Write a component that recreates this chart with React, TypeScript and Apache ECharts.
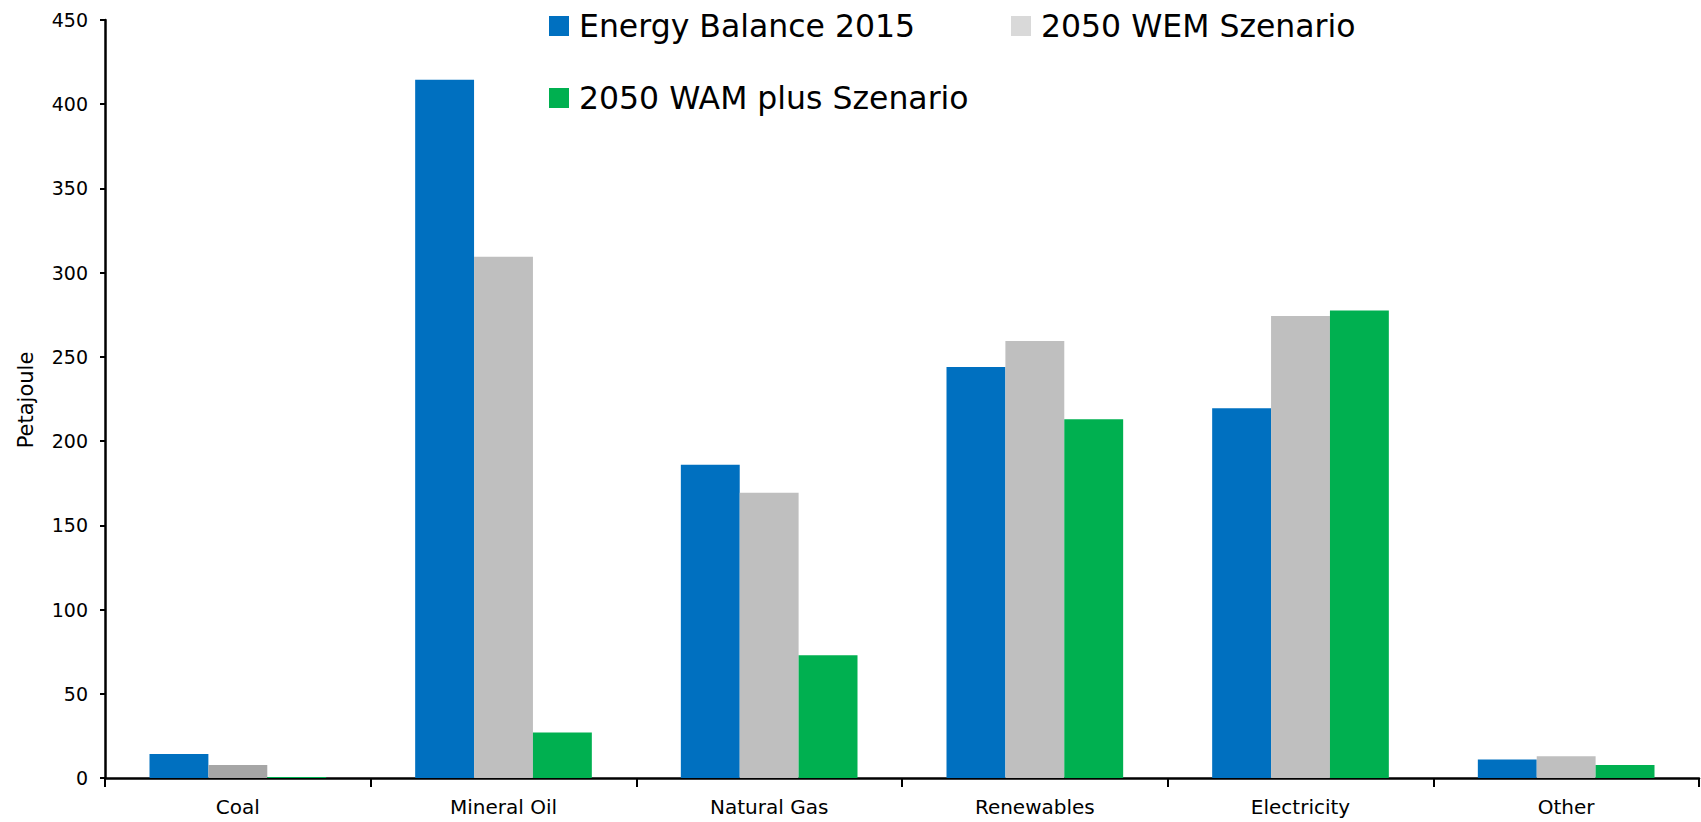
import React, { useEffect, useRef } from "react";
import * as echarts from "echarts";

const categories = ["Coal", "Mineral Oil", "Natural Gas", "Renewables", "Electricity", "Other"];
const seriesNames = ["Energy Balance 2015", "2050 WEM Szenario", "2050 WAM plus Szenario"];
const balance2015 = [14.2, 414.5, 186, 244, 219.5, 11];
const wem2050 = [7.7, 309.5, 169.3, 259.5, 274.3, 12.9];
const wamPlus2050 = [0.6, 27, 72.8, 213, 277.5, 7.7];
const yTicks = { min: 0, max: 450, interval: 50 };

const FONT = "DejaVu Sans";

export default function App() {
  const ref = useRef<HTMLDivElement>(null);
  useEffect(() => {
    if (!ref.current) return;
    const chart = echarts.init(ref.current, undefined, { renderer: "svg" });
    const legendBase = {
      orient: "horizontal",
      itemWidth: 20,
      itemHeight: 20,
      itemGap: 10,
      padding: 0,
      icon: "rect",
      textStyle: { fontFamily: FONT, fontSize: 31.5, color: "#000", padding: [0, 0, 0, 5] },
      selectedMode: false,
    };
    chart.setOption({
      animation: false,
      backgroundColor: "#fff",
      grid: { left: 105, right: 2, top: 20, bottom: 44, containLabel: false },
      legend: [
        { ...legendBase, left: 549, top: 10, data: [seriesNames[0]] },
        { ...legendBase, left: 1011, top: 10, data: [{ name: seriesNames[1], itemStyle: { color: "#d9d9d9" } }] },
        { ...legendBase, left: 549, top: 82, data: [seriesNames[2]] },
      ],
      graphic: [
        {
          type: "text",
          x: 26,
          y: 400,
          rotation: Math.PI / 2,
          style: {
            text: "Petajoule",
            fontFamily: FONT,
            fontSize: 21,
            fill: "#000",
            align: "center",
            verticalAlign: "middle",
          },
        },
      ],
      xAxis: {
        type: "category",
        data: categories,
        axisLine: { show: true, lineStyle: { color: "#000", width: 2.5 } },
        axisTick: { show: true, length: 9, lineStyle: { color: "#000", width: 2 } },
        axisLabel: { fontFamily: FONT, fontSize: 20, color: "#000", margin: 19 },
      },
      yAxis: {
        type: "value",
        min: yTicks.min,
        max: yTicks.max,
        interval: yTicks.interval,
        splitLine: { show: false },
        axisLine: { show: true, lineStyle: { color: "#000", width: 2.5 } },
        axisTick: { show: true, length: 5, lineStyle: { color: "#000", width: 2 } },
        axisLabel: { fontFamily: FONT, fontSize: 19, color: "#000", margin: 17 },
      },
      series: [
        {
          name: seriesNames[0],
          type: "bar",
          data: balance2015,
          itemStyle: { color: "#0070c0" },
          barGap: "0%",
          barCategoryGap: "33.5%",
        },
        {
          name: seriesNames[1],
          type: "bar",
          data: wem2050.map((v, i) => (i === 0 ? { value: v, itemStyle: { color: "#a6a6a6" } } : v)),
          itemStyle: { color: "#bfbfbf" },
          barGap: "0%",
          barCategoryGap: "33.5%",
        },
        {
          name: seriesNames[2],
          type: "bar",
          data: wamPlus2050,
          itemStyle: { color: "#00b050" },
          barGap: "0%",
          barCategoryGap: "33.5%",
        },
      ],
    });
    return () => chart.dispose();
  }, []);
  return (
    <div
      ref={ref}
      style={{ position: "absolute", left: 0, top: 0, width: 1701, height: 822 }}
    />
  );
}
